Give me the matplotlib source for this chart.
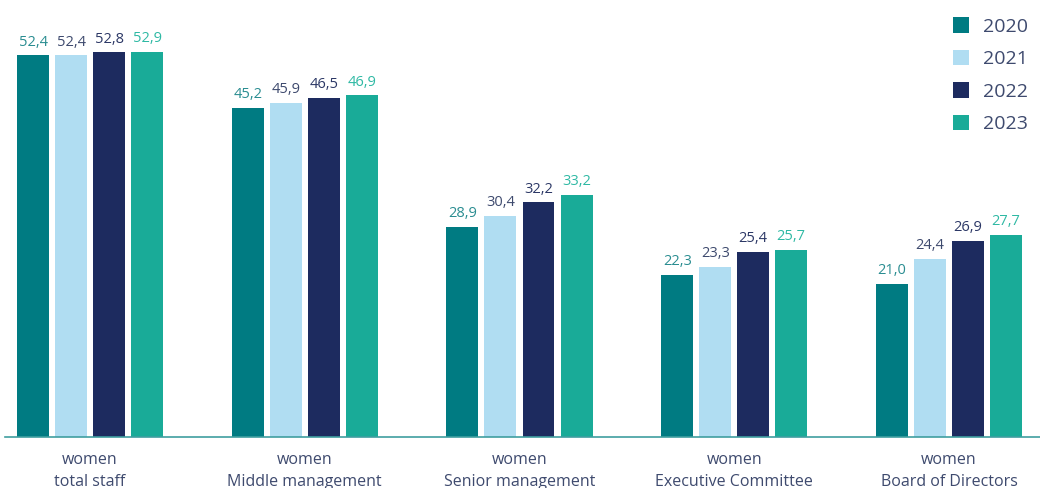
import numpy as np
import matplotlib.pyplot as plt
from matplotlib.patches import Patch

categories = ["women\ntotal staff", "women\nMiddle management", "women\nSenior management",
              "women\nExecutive Committee", "women\nBoard of Directors"]
years = ["2020", "2021", "2022", "2023"]
values = {
    "2020": [52.4, 45.2, 28.9, 22.3, 21.0],
    "2021": [52.4, 45.9, 30.4, 23.3, 24.4],
    "2022": [52.8, 46.5, 32.2, 25.4, 26.9],
    "2023": [52.9, 46.9, 33.2, 25.7, 27.7],
}
bar_colors = ["#007b82", "#b0ddf2", "#1d2b5f", "#19ab98"]
label_colors = ["#2a8d91", "#3e4a6e", "#2c3866", "#2fb9a4"]
text_color = "#3e4a6e"

plt.rcParams['font.family'] = ['Open Sans', 'DejaVu Sans']

fig = plt.figure(figsize=(10.4, 4.88), dpi=100)
ax = fig.add_axes([5 / 1040, 51 / 488, 1035 / 1040, 437 / 488])

x = np.arange(len(categories))
width = 0.149
step = 0.177
for i, yr in enumerate(years):
    pos = x + (i - 1.5) * step
    bars = ax.bar(pos, values[yr], width, color=bar_colors[i])
    for b, v in zip(bars, values[yr]):
        ax.text(b.get_x() + b.get_width() / 2, v + 0.8, f"{v:.1f}".replace(".", ","),
                ha="center", va="bottom", fontsize=10.5, color=label_colors[i])

ax.set_xlim(-0.396, 4.424)
ax.set_ylim(0, 60)
ax.set_yticks([])
ax.set_xticks(x, categories)
ax.tick_params(axis="x", length=0, pad=11, labelsize=11.5, labelcolor=text_color)
for lbl in ax.get_xticklabels():
    lbl.set_linespacing(1.45)
for s in ["top", "right", "left"]:
    ax.spines[s].set_visible(False)
ax.spines["bottom"].set_color("#3f9ea0")
ax.spines["bottom"].set_linewidth(1.2)

handles = [Patch(facecolor=c, edgecolor="none") for c in bar_colors]
fig.legend(handles, years, loc="upper left", bbox_to_anchor=(935 / 1040, 1.0),
           frameon=False, fontsize=14, labelcolor=text_color,
           handlelength=0.85, handleheight=0.85, labelspacing=0.72, handletextpad=0.7)

fig.savefig("out.png", dpi=100)
